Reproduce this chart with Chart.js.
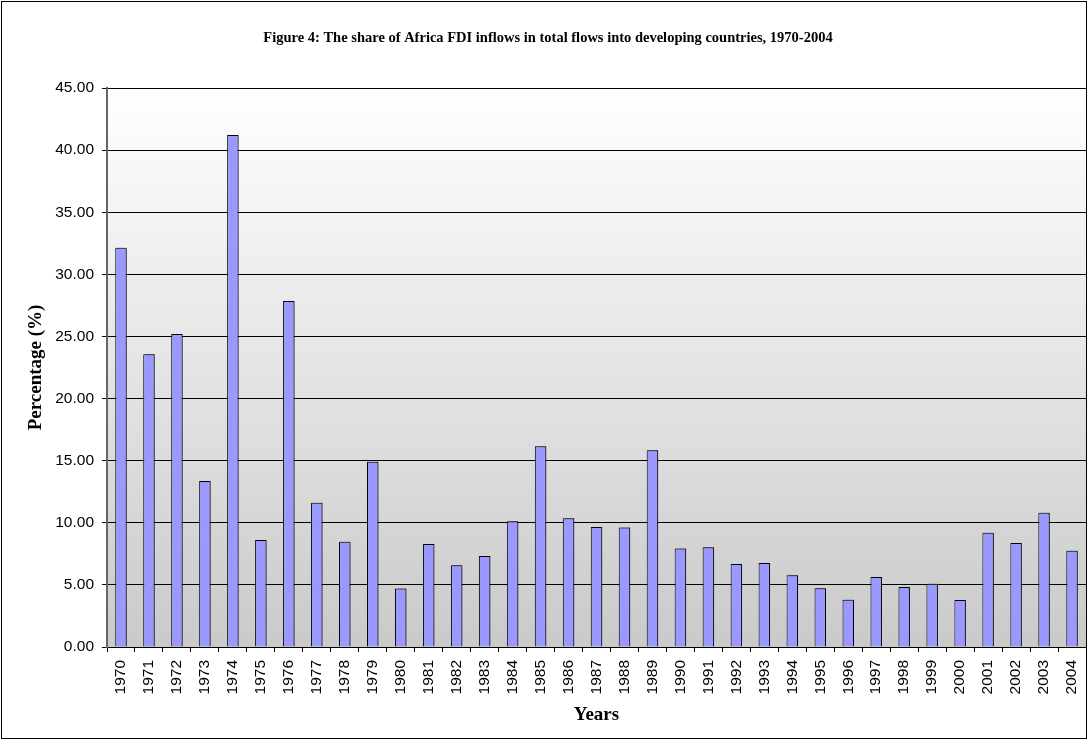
<!DOCTYPE html>
<html>
<head>
<meta charset="utf-8">
<script src="https://cdn.jsdelivr.net/npm/chart.js@4"></script>
<style>
  html, body { margin: 0; padding: 0; background: #fff; }
  #wrap { width: 1088px; height: 740px; }
</style>
</head>
<body>
<div id="wrap"><canvas id="fdiChart" width="1088" height="740"></canvas></div>
<script>
// 年（カテゴリ）
var years = ["1970","1971","1972","1973","1974","1975","1976","1977","1978","1979",
             "1980","1981","1982","1983","1984","1985","1986","1987","1988","1989",
             "1990","1991","1992","1993","1994","1995","1996","1997","1998","1999",
             "2000","2001","2002","2003","2004"];
// アフリカのシェア (%)
var shares = [32.15, 23.57, 25.20, 13.37, 41.22, 8.62, 27.86, 11.62, 8.48, 14.92,
              4.70, 8.29, 6.58, 7.33, 10.12, 16.16, 10.36, 9.66, 9.61, 15.84,
              7.92, 8.03, 6.68, 6.76, 5.77, 4.72, 3.81, 5.64, 4.83, 5.10,
              3.78, 9.20, 8.37, 10.81, 7.75];
// 目盛り
var yTicks = [0, 5, 10, 15, 20, 25, 30, 35, 40, 45];

var serif = "'Liberation Serif', 'Times New Roman', serif";
var sans = "'Liberation Sans', Arial, sans-serif";

// 背景グラデーションと外枠
var bgPlugin = {
    id: 'bgPlugin',
    beforeDraw: function (chart) {
        var c = chart.ctx, a = chart.chartArea;
        var g = c.createLinearGradient(0, a.top, 0, a.bottom);
        g.addColorStop(0, '#ffffff');
        g.addColorStop(1, '#cacaca');
        c.save();
        c.fillStyle = g;
        c.fillRect(a.left, a.top, a.right - a.left, a.bottom - a.top);
        c.restore();
    },
    afterDraw: function (chart) {
        var c = chart.ctx;
        c.save();
        c.strokeStyle = '#000';
        c.lineWidth = 1;
        c.strokeRect(1.5, 1.5, chart.width - 3, chart.height - 3);
        c.restore();
    }
};

// 棒の影
var shadowPlugin = {
    id: 'shadowPlugin',
    beforeDatasetDraw: function (chart) {
        var c = chart.ctx;
        c.save();
        c.shadowColor = 'rgba(0,0,0,0.35)';
        c.shadowOffsetX = 2;
        c.shadowOffsetY = -1;
        c.shadowBlur = 1;
    },
    afterDatasetDraw: function (chart) {
        chart.ctx.restore();
    }
};

var ctx = document.getElementById("fdiChart");
var myChart = new Chart(ctx, {
    type: 'bar',
    data: {
        labels: years,
        datasets: [{
            data: shares,
            backgroundColor: '#9999ff',
            borderColor: '#000000',
            borderWidth: 1,
            barPercentage: 0.41,
            categoryPercentage: 1.0
        }]
    },
    plugins: [bgPlugin, shadowPlugin],
    options: {
        responsive: false,
        animation: false,
        layout: { padding: { left: 10, right: 2, top: 0, bottom: 10 } },
        plugins: {
            legend: { display: false },
            tooltip: { enabled: false },
            title: {
                display: true,
                text: 'Figure 4: The share of Africa FDI inflows in total flows into developing countries, 1970-2004',
                color: '#000',
                font: { family: serif, size: 14.5, weight: 'bold' },
                padding: { top: 29.3, bottom: 41.3 }
            }
        },
        scales: {
            x: {
                grid: {
                    offset: true,
                    drawOnChartArea: false,
                    drawTicks: true,
                    tickLength: 5,
                    color: '#000'
                },
                border: { color: '#000', width: 1 },
                ticks: {
                    color: '#000',
                    font: { family: sans, size: 15.5 },
                    minRotation: 90,
                    maxRotation: 90,
                    autoSkip: false,
                    padding: 8
                },
                title: {
                    display: true,
                    text: 'Years',
                    color: '#000',
                    font: { family: serif, size: 19, weight: 'bold' },
                    padding: { top: 4, bottom: 3.6 }
                },
                afterFit: function (s) {
                    s.height = 83;
                    s.paddingLeft = 0;
                    s.paddingRight = 0;
                }
            },
            y: {
                min: 0,
                max: 45,
                afterBuildTicks: function (s) {
                    s.ticks = yTicks.map(function (v) { return { value: v }; });
                },
                grid: {
                    color: '#000',
                    lineWidth: 1,
                    tickLength: 5,
                    drawTicks: true
                },
                border: { color: '#666', width: 2 },
                ticks: {
                    color: '#000',
                    font: { family: sans, size: 15.5 },
                    padding: 8,
                    callback: function (v) { return Number(v).toFixed(2); }
                },
                title: {
                    display: true,
                    text: 'Percentage (%)',
                    color: '#000',
                    font: { family: serif, size: 19, weight: 'bold' },
                    padding: { top: 14.6, bottom: 4 }
                },
                afterFit: function (s) { s.width = 97; }
            }
        }
    }
});
</script>
</body>
</html>
